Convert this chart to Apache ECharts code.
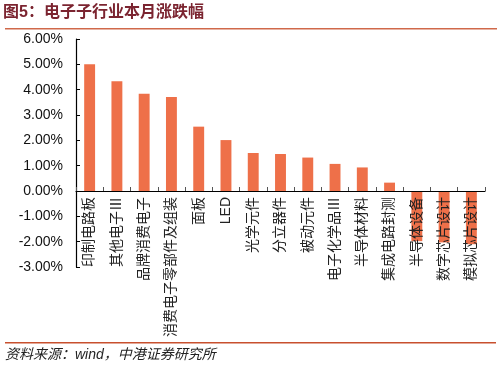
<!DOCTYPE html>
<html>
<head>
<meta charset="utf-8">
<script src="https://cdn.jsdelivr.net/npm/echarts@6/dist/echarts.min.js"></script>
<style>
html,body{margin:0;padding:0;background:#fff;}
#chart{width:502px;height:371px;}
</style>
</head>
<body>
<div id="chart"></div>
<script>
const categories = ['印制电路板','其他电子Ⅲ','品牌消费电子','消费电子零部件及组装','面板','LED','光学元件','分立器件','被动元件','电子化学品Ⅲ','半导体材料','集成电路封测','半导体设备','数字芯片设计','模拟芯片设计'];
const values = [5.00, 4.33, 3.84, 3.71, 2.54, 2.01, 1.50, 1.46, 1.32, 1.07, 0.93, 0.33, -1.98, -2.03, -2.10];
const yMin = -3, yMax = 6, yStep = 1;
const titleText = '图5：电子子行业本月涨跌幅';
const sourceText = '资料来源：wind，中港证券研究所';

const FONT = '"Liberation Sans", "Noto Sans CJK SC", sans-serif';
const GRID = {left: 76, right: 17, top: 39, bottom: 104};
const plotH = 371 - GRID.top - GRID.bottom;
const zeroOffset = (0 - yMin) / (yMax - yMin) * plotH;

const chart = echarts.init(document.getElementById('chart'), null, {renderer:'canvas'});
chart.setOption({
  animation: false,
  backgroundColor: '#fff',
  textStyle: {fontFamily: FONT},
  grid: Object.assign({containLabel: false, outerBoundsMode: 'none'}, GRID),
  graphic: [
    {type:'text', left: 3, top: 5, style:{text: titleText, fill:'#7B2430', font:'bold 16px "Liberation Sans", "Noto Sans CJK SC", sans-serif'}},
    {type:'rect', shape:{x:5, y:28, width:492, height:1.5}, style:{fill:'#D0694A'}},
    {type:'rect', shape:{x:5, y:342, width:491, height:1.5}, style:{fill:'#C8502E'}},
    {type:'text', left: 5, top: 348, style:{text: sourceText, fill:'#222', font:'italic 14px "Liberation Sans", "Noto Sans CJK SC", sans-serif'}}
  ],
  xAxis: [{
    type: 'category',
    data: categories,
    z: 5,
    axisLine: {onZero: true, lineStyle: {color:'#000', width:1.2}},
    axisTick: {show:true, inside:true, length:4, interval:0, alignWithLabel:false, lineStyle:{color:'#555'}},
    axisLabel: {show:false}
  }, {
    type: 'category',
    data: categories,
    position: 'bottom',
    offset: -zeroOffset,
    z: 6,
    axisLine: {show:false, onZero:false},
    axisTick: {show:false},
    splitLine: {show:false},
    axisLabel: {interval:0, rotate:90, color:'#222', fontSize:14, margin:6, fontFamily: FONT, overflow:'none', hideOverlap:false}
  }],
  yAxis: {
    type: 'value',
    min: yMin, max: yMax, interval: yStep,
    axisLine: {show:true, lineStyle:{color:'#000', width:1.2}},
    axisTick: {show:true, inside:true, length:4, lineStyle:{color:'#000'}},
    splitLine: {show:false},
    axisLabel: {color:'#111', fontSize:14, margin:13, fontFamily: FONT,
      formatter: v => v.toFixed(2) + '%'}
  },
  series: [{
    type: 'bar',
    xAxisIndex: 0,
    data: values,
    barWidth: '40%',
    z: 2,
    itemStyle: {color:'#EE7049'}
  }]
});
</script>
</body>
</html>
